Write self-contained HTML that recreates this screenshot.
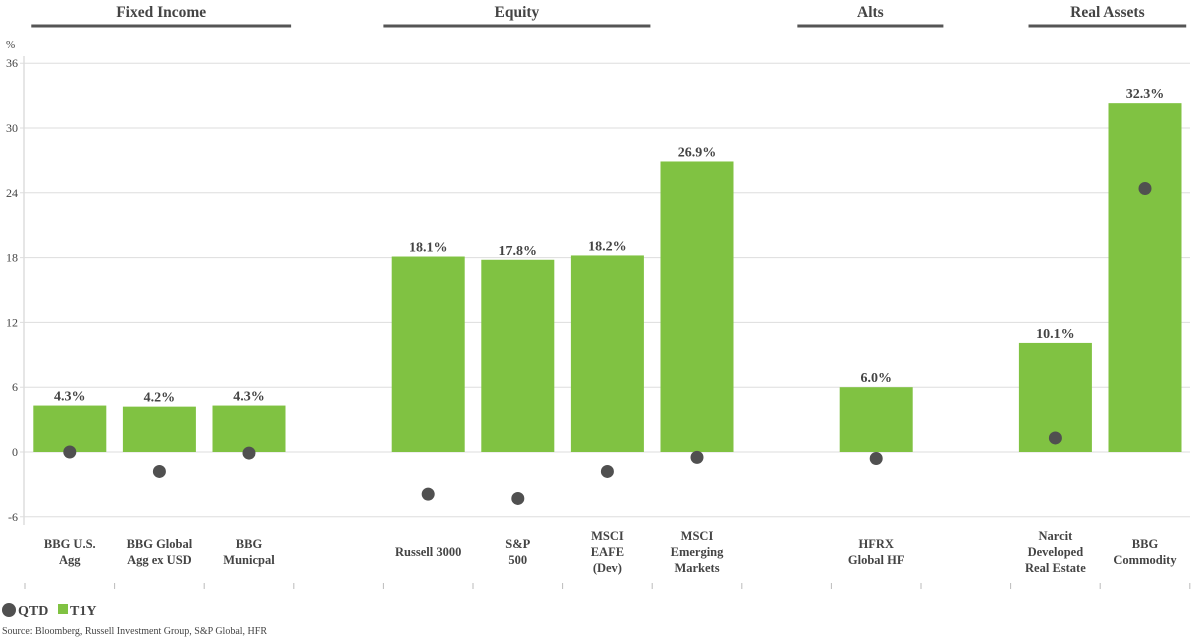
<!DOCTYPE html>
<html><head><meta charset="utf-8"><style>
body{margin:0;background:#fff;width:1200px;height:638px;overflow:hidden;font-family:"Liberation Serif",serif;}
svg text{font-family:"Liberation Serif",serif;fill:#444;}
</style></head><body>
<svg id="chart" width="1200" height="638"></svg>
<script>
const categories=[["BBG U.S.","Agg"],["BBG Global","Agg ex USD"],["BBG","Municpal"],null,["Russell 3000"],["S&P","500"],["MSCI","EAFE","(Dev)"],["MSCI","Emerging","Markets"],null,["HFRX","Global HF"],null,["Narcit","Developed","Real Estate"],["BBG","Commodity"]];
const t1y=[4.3,4.2,4.3,null,18.1,17.8,18.2,26.9,null,6.0,null,10.1,32.3];
const qtd=[0.0,-1.8,-0.1,null,-3.9,-4.3,-1.8,-0.5,null,-0.6,null,1.3,24.4];
const yTicks=[36,30,24,18,12,6,0,-6];
const groups=[["Fixed Income",0.07,2.97],["Equity",4,6.98],["Alts",8.62,10.25],["Real Assets",11.2,12.96]];
const NS="http://www.w3.org/2000/svg";
const svg=document.getElementById('chart');
const left=25,slot=89.6;
const y=v=>452-v*10.8;
const xc=i=>left+(i+0.5)*slot;
function mk(tag,attrs,txt){const e=document.createElementNS(NS,tag);for(const k in attrs)e.setAttribute(k,attrs[k]);if(txt!=null)e.textContent=txt;svg.appendChild(e);return e;}
let ax=mk('line',{x1:24,y1:56,x2:24,y2:525,stroke:'#ccc'});


let u=mk('text',{x:6,y:48,'font-size':11},'%');


yTicks.forEach(t=>{
 let g=mk('line',{x1:20,y1:y(t),x2:1190,y2:y(t),stroke:'#ddd'});
 
 
 let l=mk('text',{x:18,y:y(t)+4,'font-size':12,'text-anchor':'end'},t);
 
 
});
for(let i=0;i<=13;i++){
 let tk=mk('line',{x1:left+i*slot,y1:583,x2:left+i*slot,y2:589,stroke:'#bbb'});
 
 
}
groups.forEach(g=>{
 const x1=left+g[1]*slot,x2=left+g[2]*slot;
 let ln=mk('line',{x1:x1,y1:26,x2:x2,y2:26,stroke:'#555','stroke-width':3});
 
 
 let tx=mk('text',{x:(x1+x2)/2,y:17,'font-size':15.5,'font-weight':'bold','text-anchor':'middle'},g[0]);
 
 
});
categories.forEach((c,i)=>{
 if(!c)return;
 const v=t1y[i];
 let b=mk('rect',{x:xc(i)-36.5,y:Math.min(y(v),y(0)),width:73,height:Math.abs(y(v)-y(0)),fill:'#80c242'});
 
 
 let vl=mk('text',{x:xc(i),y:y(v)-5,'font-size':14,'font-weight':'bold','text-anchor':'middle'},v.toFixed(1)+'%');
 
 
 let d=mk('circle',{cx:xc(i),cy:y(qtd[i]),r:6.5,fill:'#505050'});
 
 
 const n=c.length,y0=556-(n-1)*8;
 c.forEach((s,k)=>{
  let t=mk('text',{x:xc(i),y:y0+k*16,'font-size':12.5,'font-weight':'bold','text-anchor':'middle'},s);
  
  
 });
});
let lc=mk('circle',{cx:9,cy:610,r:7,fill:'#505050'});


let lt=mk('text',{x:18,y:615,'font-size':14,'font-weight':'bold'},'QTD');


let ls=mk('rect',{x:58,y:604,width:10,height:10,fill:'#80c242'});


let lt2=mk('text',{x:70,y:615,'font-size':14,'font-weight':'bold'},'T1Y');


let src=mk('text',{x:2,y:634,'font-size':10},'Source: Bloomberg, Russell Investment Group, S&P Global, HFR');


</script>
</body></html>
